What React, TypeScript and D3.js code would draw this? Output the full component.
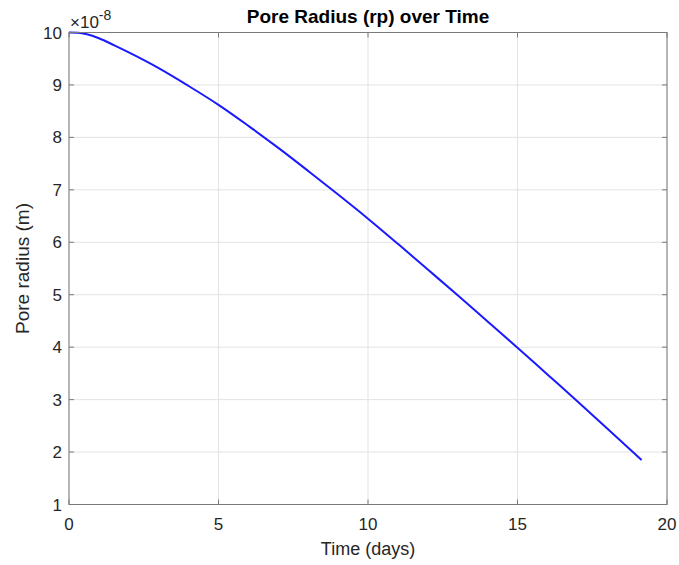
import React from "react";
import * as d3 from "d3";

const timeDays = [0, 0.3, 0.6, 1.0, 1.5, 2, 3, 4, 5, 6, 7, 8, 9, 10, 11, 12, 13, 14, 15, 16, 17, 18, 19.15];
const poreRadius = [10, 9.995, 9.965, 9.89, 9.76, 9.62, 9.32, 8.98, 8.62, 8.22, 7.8, 7.36, 6.91, 6.45, 5.97, 5.48, 4.99, 4.49, 3.99, 3.48, 2.97, 2.45, 1.85];
const xTicks = [0, 5, 10, 15, 20];
const yTicks = [1, 2, 3, 4, 5, 6, 7, 8, 9, 10];

const W = 679, H = 565;
const L = 69, R = 667, T = 32.5, B = 504.5;
const font = "'Liberation Sans', Arial, Helvetica, sans-serif";

export default function App() {
  const x = d3.scaleLinear().domain([0, 20]).range([L, R]);
  const y = d3.scaleLinear().domain([1, 10]).range([B, T]);
  const line = d3.line<number>().x((_, i) => x(timeDays[i])).y((d) => y(d)).curve(d3.curveMonotoneX);
  const axisColor = "#7a7a7a";
  const textColor = "#262626";
  return (
    <svg width={W} height={H} style={{ position: "absolute", left: 0, top: 0, background: "#fff" }}>
      <rect x={0} y={0} width={W} height={H} fill="#fff" />
      {xTicks.map((t) => (
        <line key={"gx" + t} x1={x(t)} x2={x(t)} y1={T} y2={B} stroke="#e3e3e3" strokeWidth={1} />
      ))}
      {yTicks.map((t) => (
        <line key={"gy" + t} x1={L} x2={R} y1={y(t)} y2={y(t)} stroke="#e3e3e3" strokeWidth={1} />
      ))}
      <path d={line(poreRadius) || ""} fill="none" stroke="#1a1aff" strokeWidth={2} strokeLinejoin="round" />
      <rect x={L} y={T} width={R - L} height={B - T} fill="none" stroke={axisColor} strokeWidth={1} />
      {xTicks.map((t) => (
        <g key={"tx" + t}>
          <line x1={x(t)} x2={x(t)} y1={B} y2={B - 5} stroke={axisColor} />
          <line x1={x(t)} x2={x(t)} y1={T} y2={T + 5} stroke={axisColor} />
          <text x={x(t)} y={530} textAnchor="middle" fontFamily={font} fontSize={17} fill={textColor}>{t}</text>
        </g>
      ))}
      {yTicks.map((t) => (
        <g key={"ty" + t}>
          <line x1={L} x2={L + 5} y1={y(t)} y2={y(t)} stroke={axisColor} />
          <line x1={R} x2={R - 5} y1={y(t)} y2={y(t)} stroke={axisColor} />
          <text x={62} y={y(t) + 6} textAnchor="end" fontFamily={font} fontSize={17} fill={textColor}>{t}</text>
        </g>
      ))}
      <text x={70} y={28} fontFamily={font} fontSize={17} fill={textColor}>
        ×10<tspan dy={-8} fontSize={14}>-8</tspan>
      </text>
      <text x={(L + R) / 2} y={23} textAnchor="middle" fontFamily={font} fontSize={19} fontWeight="bold" fill="#000">Pore Radius (rp) over Time</text>
      <text x={(L + R) / 2} y={555} textAnchor="middle" fontFamily={font} fontSize={18} fill={textColor}>Time (days)</text>
      <text transform={`translate(29, ${(T + B) / 2}) rotate(-90)`} textAnchor="middle" fontFamily={font} fontSize={19} fill={textColor}>Pore radius (m)</text>
    </svg>
  );
}
